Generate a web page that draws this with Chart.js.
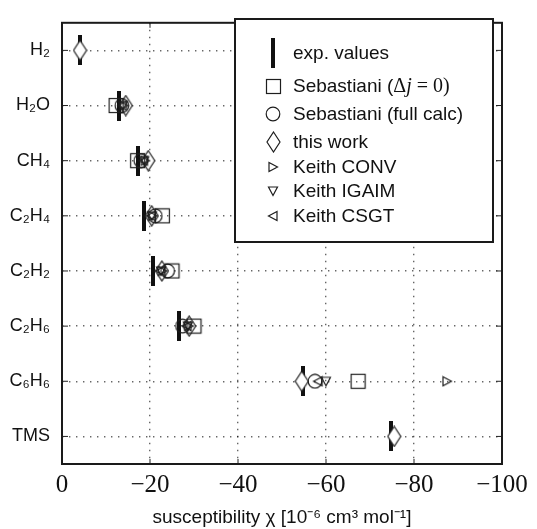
<!DOCTYPE html>
<html><head><meta charset="utf-8">
<script src="https://cdn.jsdelivr.net/npm/chart.js@4/dist/chart.umd.min.js"></script>
<style>html,body{margin:0;padding:0;background:#fff}#wrap{width:537px;height:529px}</style>
</head><body><div id="wrap"><canvas id="c" width="537" height="529"></canvas></div>
<script>
// ---- data ----
const molecules = ['H₂', 'H₂O', 'CH₄', 'C₂H₄', 'C₂H₂', 'C₂H₆', 'C₆H₆', 'TMS'];
const xTicks = [0, -20, -40, -60, -80, -100];
const expValues     = [-4.1, -13.0, -17.3, -18.6, -20.6, -26.7, -54.8, -74.7];
const sebastianiDj0 = [null, -12.3, -17.2, -22.8, -25.0, -30.0, -67.3, null];
const sebastianiFull= [null, -13.6, -17.9, -21.2, -24.0, -27.4, -57.5, null];
const thisWork      = [-4.1, -14.5, -19.6, -20.4, -22.7, -28.9, -54.5, -75.5];
const keithConv     = [null, -14.0, -18.9, -20.6, -22.8, -28.8, -87.5, null];
const keithIgaim    = [null, -13.8, -18.7, -20.4, -22.5, -28.6, -60.0, null];
const keithCsgt     = [null, -13.7, -18.5, -20.2, -22.3, -28.4, -58.2, null];
const seriesNames = ['exp. values', 'Sebastiani (Δj = 0)', 'Sebastiani (full calc)', 'this work', 'Keith CONV', 'Keith IGAIM', 'Keith CSGT'];

// ---- marker images ----
function mk(w, h, draw) {
  const c = document.createElement('canvas'); c.width = w; c.height = h;
  const g = c.getContext('2d'); g.strokeStyle = '#1e1e1e'; g.fillStyle = '#111'; g.lineWidth = 1.2;
  draw(g); return c;
}
const markers = [
  mk(4, 30, g => g.fillRect(0, 0, 4, 30)),
  mk(17, 17, g => g.strokeRect(1.5, 1.5, 14, 14)),
  mk(16, 16, g => { g.beginPath(); g.arc(8, 8, 6.8, 0, Math.PI * 2); g.stroke(); }),
  mk(15, 22, g => { g.beginPath(); g.moveTo(7.5, 1); g.lineTo(14, 11); g.lineTo(7.5, 21); g.lineTo(1, 11); g.closePath(); g.fillStyle = '#fff'; g.fill(); g.stroke(); }),
  mk(12, 12, g => { g.beginPath(); g.moveTo(2, 1.5); g.lineTo(10.5, 6); g.lineTo(2, 10.5); g.closePath(); g.stroke(); }),
  mk(12, 12, g => { g.beginPath(); g.moveTo(1.5, 2); g.lineTo(10.5, 2); g.lineTo(6, 10.5); g.closePath(); g.stroke(); }),
  mk(12, 12, g => { g.beginPath(); g.moveTo(10, 1.5); g.lineTo(1.5, 6); g.lineTo(10, 10.5); g.closePath(); g.stroke(); })
];
const drawOrder = [10, 3, 2, 9, 1, 1, 1];

const allSeries = [expValues, sebastianiDj0, sebastianiFull, thisWork, keithConv, keithIgaim, keithCsgt];
const datasets = allSeries.map((vals, k) => ({
  label: seriesNames[k],
  data: vals.map((v, i) => v === null ? null : { x: v, y: molecules[i] }).filter(d => d),
  showLine: false,
  pointStyle: markers[k],
  pointRadius: 8,
  pointHoverRadius: 8,
  borderColor: '#222',
  backgroundColor: 'transparent',
  order: drawOrder[k]
}));

// ---- plugins ----
const framePlugin = {
  id: 'frame',
  afterDraw(chart) {
    const ctx = chart.ctx, a = chart.chartArea;
    const xs = chart.scales.x, ys = chart.scales.y;
    ctx.save();
    ctx.strokeStyle = '#222'; ctx.lineWidth = 1;
    ctx.beginPath();
    xs.ticks.forEach((t, i) => {
      const px = xs.getPixelForTick(i);
      ctx.moveTo(px, a.bottom); ctx.lineTo(px, a.bottom - 5);
      ctx.moveTo(px, a.top); ctx.lineTo(px, a.top + 5);
    });
    ys.ticks.forEach((t, i) => {
      const py = ys.getPixelForTick(i);
      ctx.moveTo(a.left, py); ctx.lineTo(a.left + 6, py);
      ctx.moveTo(a.right, py); ctx.lineTo(a.right - 6, py);
    });
    ctx.stroke();
    ctx.lineWidth = 2; ctx.strokeStyle = '#1a1a1a';
    ctx.strokeRect(a.left, a.top, a.right - a.left, a.bottom - a.top);

    // legend box
    const bx = 235, by = 19, bw = 258, bh = 223;
    ctx.fillStyle = '#fff'; ctx.fillRect(bx, by, bw, bh);
    ctx.strokeRect(bx, by, bw, bh);
    const rowsY = [53, 86, 114, 142, 167, 191, 216];
    const mx = 273, tx = 293;
    ctx.fillStyle = '#111'; ctx.textBaseline = 'middle'; ctx.textAlign = 'left';
    const sans = '19px "Liberation Sans", Arial, sans-serif';
    rowsY.forEach((y, k) => {
      const m = markers[k];
      ctx.drawImage(m, Math.round(mx - m.width / 2), Math.round(y - m.height / 2));
      ctx.font = sans;
      if (k === 1) {
        let x = tx;
        const parts = [
          ['Sebastiani (', sans],
          ['Δ', '20px "Liberation Serif", serif'],
          ['j', 'italic 20px "Liberation Serif", serif'],
          [' = 0', '20px "Liberation Serif", serif'],
          [')', '20px "Liberation Serif", serif']
        ];
        parts.forEach(([s, f]) => { ctx.font = f; ctx.fillText(s, x, y + 1); x += ctx.measureText(s).width; });
      } else {
        ctx.fillText(seriesNames[k], tx, y + 1);
      }
    });
    ctx.restore();
  }
};

new Chart(document.getElementById('c'), {
  type: 'line',
  data: { datasets },
  plugins: [framePlugin],
  options: {
    responsive: false,
    animation: false,
    devicePixelRatio: 1,
    layout: { padding: { left: 0, right: 35, top: 10, bottom: 0 } },
    plugins: { legend: { display: false }, tooltip: { enabled: false } },
    scales: {
      x: {
        type: 'linear', min: -100, max: 0, reverse: true, position: 'bottom',
        afterBuildTicks(s) { s.ticks = xTicks.map(v => ({ value: v })); },
        ticks: {
          callback: v => v === 0 ? '0' : '−' + Math.abs(v),
          font: { family: '"Liberation Serif", serif', size: 25 },
          color: '#111', padding: 6
        },
        grid: { color: 'rgba(0,0,0,0.6)', lineWidth: 1.4, drawTicks: false },
        border: { display: false, dash: [1.4, 5.6] },
        title: {
          display: true, text: 'susceptibility χ [10⁻⁶ cm³ mol⁻¹]',
          font: { family: '"Liberation Sans", Arial, sans-serif', size: 19 },
          color: '#111', padding: { top: 0, bottom: 0 }
        },
        afterFit(s) { s.height = 65; }
      },
      y: {
        type: 'category', labels: molecules, offset: true, position: 'left',
        ticks: {
          font: { family: '"Liberation Sans", Arial, sans-serif', size: 18 },
          color: '#111', padding: 12
        },
        grid: { offset: false, color: 'rgba(0,0,0,0.6)', lineWidth: 1.4, drawTicks: false },
        border: { display: false, dash: [1.4, 5.6] },
        afterFit(s) { s.width = 62; }
      }
    }
  }
});
</script></body></html>
